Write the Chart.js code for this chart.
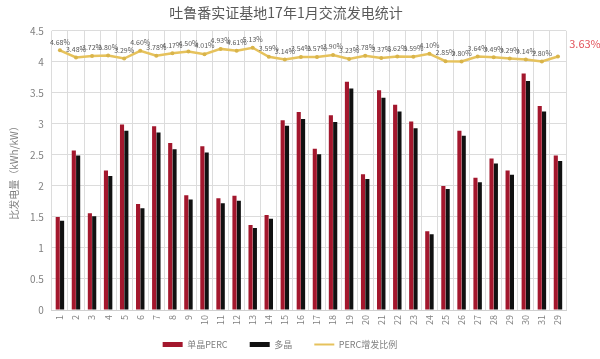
<!DOCTYPE html>
<html>
<head>
<meta charset="utf-8">
<script src="https://cdn.jsdelivr.net/npm/chart.js@4/dist/chart.umd.min.js"></script>
<style>
  html, body { margin: 0; padding: 0; background: #ffffff; }
  #wrap { width: 600px; height: 359px; position: relative; }
</style>
</head>
<body>
<div id="wrap"><canvas id="c"></canvas></div>
<script>
// Day labels (last column is the month summary)
const categories = ['1','2','3','4','5','6','7','8','9','10','11','12','13','14','15','16',
  '17','18','19','20','21','22','23','24','25','26','27','28','29','30','31','29'];

// Specific yield, kWh/kW
const monoPerc = [1.50, 2.57, 1.56, 2.25, 2.99, 1.71, 2.96, 2.69, 1.85, 2.64, 1.80, 1.84, 1.37, 1.53, 3.06, 3.19,
  2.60, 3.14, 3.68, 2.19, 3.54, 3.31, 3.04, 1.27, 2.00, 2.89, 2.13, 2.44, 2.25, 3.81, 3.29, 2.49];
const multi = [1.44, 2.49, 1.51, 2.16, 2.89, 1.64, 2.86, 2.59, 1.78, 2.54, 1.72, 1.76, 1.32, 1.47, 2.97, 3.08,
  2.51, 3.03, 3.57, 2.11, 3.42, 3.20, 2.93, 1.22, 1.95, 2.81, 2.06, 2.36, 2.18, 3.69, 3.20, 2.40];

// PERC gain over multi-crystalline, %
const gainPct = [4.68, 3.48, 3.72, 3.80, 3.29, 4.60, 3.78, 4.17, 4.50, 4.01, 4.93, 4.61, 5.13, 3.59, 3.14, 3.54,
  3.57, 3.90, 3.23, 3.78, 3.37, 3.62, 3.59, 4.10, 2.85, 2.80, 3.64, 3.49, 3.29, 3.14, 2.80, 3.63];

const yTicks = [0, 0.5, 1, 1.5, 2, 2.5, 3, 3.5, 4, 4.5];

const FONT = "'Noto Sans CJK SC', 'Noto Sans', sans-serif";
const GREY = '#7f7f7f';

// Percentage labels above the line points
const pctLabels = {
  id: 'pctLabels',
  afterDatasetsDraw(chart) {
    const meta = chart.getDatasetMeta(2);
    const ctx = chart.ctx;
    ctx.save();
    ctx.textAlign = 'center';
    ctx.textBaseline = 'bottom';
    meta.data.forEach((pt, i) => {
      const txt = gainPct[i].toFixed(2) + '%';
      if (i === meta.data.length - 1) {
        ctx.fillStyle = '#e2525a';
        ctx.font = '11px ' + FONT;
        ctx.fillText(txt, pt.x + 27, pt.y - 7);
      } else {
        ctx.fillStyle = '#595959';
        ctx.font = '7px ' + FONT;
        ctx.fillText(txt, pt.x, pt.y - 5);
      }
    });
    ctx.restore();
  }
};

new Chart(document.getElementById('c'), {
  data: {
    labels: categories,
    datasets: [
      {
        type: 'bar', label: '单晶PERC', data: monoPerc,
        backgroundColor: '#a3172d', yAxisID: 'y', order: 2,
        categoryPercentage: 0.54, barPercentage: 0.95
      },
      {
        type: 'bar', label: '多晶', data: multi,
        backgroundColor: '#111111', yAxisID: 'y', order: 2,
        categoryPercentage: 0.54, barPercentage: 0.95
      },
      {
        type: 'line', label: 'PERC增发比例', data: gainPct,
        borderColor: '#e6c25c', backgroundColor: '#e6c25c', borderWidth: 2.5,
        pointRadius: 2, pointBorderWidth: 0, pointBackgroundColor: '#d9b44a',
        yAxisID: 'y2', order: 1, tension: 0
      }
    ]
  },
  options: {
    responsive: true,
    maintainAspectRatio: false,
    animation: false,
    layout: { padding: { left: 6, right: 34, top: 2, bottom: 0 } },
    plugins: {
      title: {
        display: true, text: '吐鲁番实证基地17年1月交流发电统计',
        color: '#595959', font: { family: FONT, size: 14, weight: 'normal' },
        padding: { top: 2, bottom: 10 }
      },
      legend: {
        position: 'bottom',
        labels: {
          color: GREY, font: { family: FONT, size: 9 },
          usePointStyle: true, pointStyleWidth: 20, boxHeight: 5, padding: 10,
          sort: (a, b) => a.datasetIndex - b.datasetIndex,
          generateLabels(chart) {
            const items = Chart.defaults.plugins.legend.labels.generateLabels(chart);
            items.forEach(it => {
              it.text = it.text + '      ';
              if (it.datasetIndex === 2) {
                it.pointStyle = 'line'; it.lineWidth = 2; it.strokeStyle = '#e6c25c';
              } else {
                it.pointStyle = 'rect';
              }
            });
            return items;
          }
        }
      },
      tooltip: { enabled: false }
    },
    scales: {
      x: {
        grid: { color: '#dcdcdc', offset: true, drawTicks: false },
        border: { color: '#d0d0d0' },
        ticks: { color: GREY, font: { family: FONT, size: 9 }, minRotation: 90, maxRotation: 90, padding: 5 }
      },
      y: {
        min: 0, max: 4.5,
        afterBuildTicks(axis) { axis.ticks = yTicks.map(v => ({ value: v })); },
        grid: { color: '#dcdcdc', drawTicks: false },
        border: { display: false },
        ticks: { color: GREY, font: { family: FONT, size: 10 }, padding: 8, callback: v => String(v) },
        title: { display: true, text: '比发电量（kWh/kW）', color: GREY, font: { family: FONT, size: 10 }, padding: 2 }
      },
      y2: {
        display: false, min: -39.4, max: 8
      }
    }
  },
  plugins: [pctLabels]
});
</script>
</body>
</html>
